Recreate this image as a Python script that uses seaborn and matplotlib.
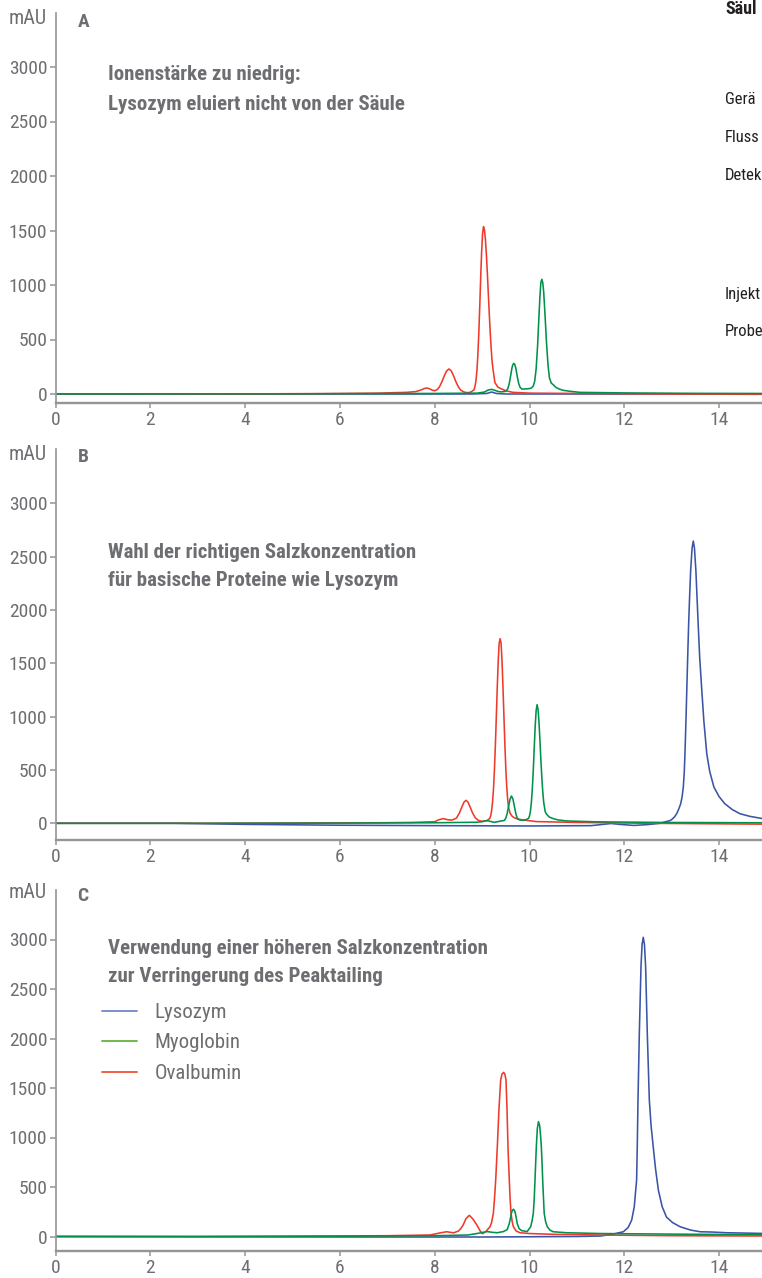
import matplotlib
matplotlib.use("Agg")
import numpy as np
import pandas as pd
import seaborn as sns
import matplotlib.pyplot as plt
from matplotlib.lines import Line2D
from matplotlib import font_manager as fm

# ---------------- data ----------------
proteins = ["Lysozym", "Myoglobin", "Ovalbumin"]
panel_labels = ["A", "B", "C"]
panel_titles = [
    "Ionenstärke zu niedrig:\nLysozym eluiert nicht von der Säule",
    "Wahl der richtigen Salzkonzentration\nfür basische Proteine wie Lysozym",
    "Verwendung einer höheren Salzkonzentration\nzur Verringerung des Peaktailing",
]
y_ticks = [0, 500, 1000, 1500, 2000, 2500, 3000]
x_ticks = [0, 2, 4, 6, 8, 10, 12, 14]
side_title = "Säul"
side_labels = ["Gerä", "Fluss", "Detek", "Injekt", "Probe"]

# Panel A
A_lys_t = [0, 5, 8.8, 9.1, 9.2, 9.3, 9.5, 12, 14.92]
A_lys_v = [0, 0, 0, 5, 18, 5, 0, 0, 0]
A_ova_t = [0, 3, 5.5, 6.8, 7.4, 7.6, 7.7, 7.78, 7.83, 7.88, 7.95, 8.0, 8.05, 8.10, 8.15, 8.20,
           8.25, 8.30, 8.35, 8.40, 8.45, 8.50, 8.55, 8.62, 8.69, 8.75, 8.79, 8.83, 8.85, 8.87,
           8.89, 8.91, 8.93, 8.95, 8.97, 8.99, 9.01, 9.03, 9.05, 9.07, 9.09, 9.11, 9.13, 9.15,
           9.17, 9.19, 9.21, 9.23, 9.27, 9.33, 9.38, 9.5, 9.65, 10.0, 11.0, 13.0, 14.92]
A_ova_v = [0, 0, 3, 8, 15, 22, 35, 50, 55, 50, 35, 30, 40, 65, 110, 165,
           210, 230, 212, 165, 110, 65, 35, 18, 12, 16, 26, 38, 69, 122,
           208, 355, 553, 799, 1064, 1303, 1473, 1535, 1505, 1417, 1282, 1115, 931, 747,
           576, 426, 304, 228, 105, 65, 52, 30, 15, 8, 5, 0, -3]
A_myo_t = [0, 5, 8, 8.9, 9.05, 9.12, 9.2, 9.28, 9.35, 9.41, 9.46, 9.50, 9.54, 9.57, 9.60,
           9.63, 9.65, 9.67, 9.69, 9.71, 9.74, 9.77, 9.80, 9.84, 9.90, 9.96, 10.00, 10.04,
           10.08, 10.11, 10.14, 10.17, 10.20, 10.22, 10.24, 10.26, 10.28, 10.30, 10.33, 10.36,
           10.39, 10.42, 10.46, 10.50, 10.56, 10.63, 10.71, 10.85, 11.07, 12.0, 13.5, 14.92]
A_myo_v = [0, 2, 5, 8, 18, 35, 43, 32, 22, 20, 22, 25, 47, 90, 162,
           240, 270, 281, 270, 240, 165, 100, 62, 45, 46, 48, 50, 55,
           73, 118, 230, 438, 717, 896, 1024, 1052, 1020, 933, 705, 461,
           270, 148, 100, 85, 60, 45, 34, 25, 15, 10, 6, 5]

# Panel B
B_lys_t = [0, 2.5, 4, 6, 8, 10, 11.3, 11.55, 11.72, 11.9, 12.2, 12.5, 12.75, 12.96, 13.0,
           13.06, 13.105, 13.15, 13.19, 13.22, 13.245, 13.265, 13.28, 13.30, 13.32, 13.34,
           13.36, 13.38, 13.40, 13.43, 13.455, 13.48, 13.51, 13.555, 13.59, 13.63, 13.68,
           13.74, 13.80, 13.89, 14.0, 14.12, 14.28, 14.44, 14.65, 14.92]
B_lys_v = [0, 0, -10, -18, -22, -25, -22, -10, -2, -10, -20, -12, 0, 25, 35,
           60, 90, 135, 184, 250, 340, 480, 653, 950, 1278, 1600,
           1903, 2150, 2371, 2580, 2646, 2580, 2371, 1903, 1560, 1278, 950,
           653, 490, 340, 250, 184, 128, 90, 65, 44]
B_ova_t = [0, 3, 5.3, 6.85, 7.5, 8.0, 8.08, 8.18, 8.28, 8.36, 8.41, 8.46, 8.52, 8.57, 8.62,
           8.66, 8.70, 8.75, 8.80, 8.86, 8.92, 8.99, 9.10, 9.16, 9.18, 9.20, 9.22, 9.24, 9.26,
           9.28, 9.30, 9.32, 9.34, 9.36, 9.38, 9.40, 9.42, 9.44, 9.46, 9.48, 9.50, 9.52, 9.54,
           9.56, 9.59, 9.63, 9.68, 9.75, 9.85, 10.15, 11.0, 12.5, 14.92]
B_ova_v = [0, 0, 3, 5, 8, 15, 32, 44, 33, 30, 38, 50, 95, 150, 200,
           215, 200, 150, 95, 50, 28, 19, 25, 45, 68, 117, 198, 320, 500,
           730, 1000, 1275, 1520, 1688, 1731, 1690, 1525, 1282, 1010, 745, 515, 340, 220,
           145, 95, 68, 52, 40, 32, 16, 8, 0, -8]
B_myo_t = [0, 3, 6, 8, 8.9, 9.0, 9.11, 9.2, 9.26, 9.36, 9.47, 9.50, 9.53, 9.56, 9.59, 9.62,
           9.65, 9.68, 9.71, 9.74, 9.77, 9.82, 9.87, 9.93, 9.98, 10.00, 10.02, 10.04, 10.06,
           10.08, 10.10, 10.12, 10.14, 10.16, 10.18, 10.20, 10.22, 10.24, 10.26, 10.28, 10.30,
           10.33, 10.36, 10.42, 10.50, 10.60, 10.78, 11.4, 12.8, 14.92]
B_myo_v = [0, 0, 2, 5, 10, 15, 25, 15, 9, 18, 27, 48, 94, 162, 228, 256,
           228, 162, 94, 50, 35, 30, 28, 35, 46, 69, 114, 196, 325,
           501, 707, 909, 1057, 1112, 1069, 949, 780, 598, 430, 295, 196,
           111, 85, 58, 44, 32, 22, 14, 8, 5]

# Panel C
C_lys_t = [0, 3, 6, 9, 11.0, 11.5, 11.77, 11.98, 12.08, 12.156, 12.21, 12.26, 12.275, 12.289,
           12.317, 12.352, 12.375, 12.40, 12.425, 12.45, 12.485, 12.528, 12.565, 12.61, 12.66,
           12.72, 12.80, 12.89, 13.02, 13.175, 13.4, 13.6, 13.85, 14.16, 14.92]
C_lys_v = [0, -3, -5, -5, 0, 5, 25, 48, 90, 166, 300, 571, 950, 1379,
           2052, 2725, 2950, 3022, 2950, 2725, 2052, 1379, 1120, 907, 680,
           465, 300, 196, 140, 99, 65, 48, 45, 38, 31]
C_ova_t = [0, 3, 5, 7, 7.9, 8.1, 8.25, 8.40, 8.50, 8.55, 8.60, 8.66, 8.73, 8.80, 8.85, 8.89,
           8.96, 9.01, 9.08, 9.167, 9.20, 9.237, 9.26, 9.287, 9.30, 9.321, 9.355, 9.392, 9.42,
           9.455, 9.48, 9.504, 9.525, 9.546, 9.56, 9.574, 9.59, 9.61, 9.635, 9.66, 9.72, 9.80,
           10.0, 10.5, 11.5, 13.0, 14.92]
C_ova_v = [0, 0, 3, 8, 15, 35, 48, 37, 55, 80, 116, 180, 214, 180, 145, 116,
           55, 28, 50, 99, 140, 234, 370, 571, 700, 907, 1280, 1581, 1640,
           1658, 1640, 1581, 1300, 907, 730, 571, 390, 234, 150, 99, 55, 38,
           30, 22, 15, 8, 5]
C_myo_t = [0, 3, 6, 8, 8.7, 8.95, 9.1, 9.22, 9.32, 9.45, 9.53, 9.575, 9.60, 9.62, 9.64, 9.66,
           9.68, 9.70, 9.72, 9.74, 9.78, 9.835, 9.95, 10.025, 10.055, 10.08, 10.10, 10.116,
           10.13, 10.144, 10.165, 10.19, 10.215, 10.235, 10.25, 10.265, 10.278, 10.295, 10.31,
           10.34, 10.375, 10.43, 10.50, 10.78, 11.5, 13.0, 14.92]
C_myo_v = [0, 0, 3, 8, 15, 35, 50, 42, 38, 50, 70, 133, 190, 240, 265, 275,
           265, 240, 190, 133, 80, 59, 50, 99, 160, 234, 380, 571,
           740, 907, 1090, 1160, 1120, 1010, 907, 740, 571, 390, 234,
           150, 99, 65, 48, 38, 30, 24, 18]

# ---------------- styling ----------------
sns.set_style("white")
names = {f.name for f in fm.fontManager.ttflist}
fam = [n for n in ["Liberation Sans Narrow", "Roboto Condensed", "Liberation Sans"] if n in names]
plt.rcParams["font.family"] = fam + ["DejaVu Sans"]

GREY = "#6d6e71"
SPINE = "#939598"
BLACK = "#231f20"
line_colors = {"Lysozym": "#3a55a5", "Myoglobin": "#00924a", "Ovalbumin": "#ee3a2a"}
legend_colors = {"Lysozym": "#6f86c8", "Myoglobin": "#62b43a", "Ovalbumin": "#f0503c"}

panels = {
    "A": {"Lysozym": (A_lys_t, A_lys_v), "Myoglobin": (A_myo_t, A_myo_v), "Ovalbumin": (A_ova_t, A_ova_v)},
    "B": {"Lysozym": (B_lys_t, B_lys_v), "Myoglobin": (B_myo_t, B_myo_v), "Ovalbumin": (B_ova_t, B_ova_v)},
    "C": {"Lysozym": (C_lys_t, C_lys_v), "Myoglobin": (C_myo_t, C_myo_v), "Ovalbumin": (C_ova_t, C_ova_v)},
}
rows = []
for p, d in panels.items():
    for prot, (ts, vs) in d.items():
        for t, v in zip(ts, vs):
            rows.append((p, prot, t, v))
df = pd.DataFrame(rows, columns=["panel", "protein", "t", "mAU"])

W, H = 762, 1278
fig = plt.figure(figsize=(W / 100, H / 100), dpi=100)

# axes geometry in pixels: (top, bottom, zero-line y, px per mAU)
geo = {
    "A": (13, 403, 394.0, 0.109),
    "B": (449, 840, 823.3, 0.10667),
    "C": (890, 1251, 1236.5, 0.099),
}
x0_px, px_per_min = 55.5, 47.4
xmax = (W - x0_px) / px_per_min
title_y = {"A": (74, 104), "B": (553, 581), "C": (949, 976)}
mau_y = {"A": 19, "B": 454, "C": 893}
lab_y = {"A": 22, "B": 457, "C": 896}

def fy(py):
    return 1 - py / H

for i, p in enumerate(panel_labels):
    top, bot, zero, k = geo[p]
    ax = fig.add_axes([x0_px / W, 1 - bot / H, (W - x0_px) / W, (bot - top) / H])
    sub = df[df.panel == p]
    sns.lineplot(data=sub, x="t", y="mAU", hue="protein",
                 hue_order=["Lysozym", "Ovalbumin", "Myoglobin"],
                 palette=line_colors, estimator=None, legend=False,
                 linewidth=1.15, ax=ax)
    ax.set_xlim(0, xmax)
    ax.set_ylim(-(bot - zero) / k, (zero - top) / k)
    ax.set_xticks(x_ticks)
    ax.set_yticks(y_ticks)
    ax.set_xlabel("")
    ax.set_ylabel("")
    for s in ["top", "right"]:
        ax.spines[s].set_visible(False)
    ax.spines["left"].set_color(SPINE)
    ax.spines["left"].set_linewidth(1.2)
    ax.spines["bottom"].set_color(SPINE)
    ax.spines["bottom"].set_linewidth(1.7)
    ax.tick_params(axis="y", direction="out", length=4, width=1.1, color=SPINE,
                   labelcolor=GREY, labelsize=14, pad=2, left=True)
    ax.tick_params(axis="x", direction="out", length=3.5, width=1.1, color=SPINE,
                   labelcolor=GREY, labelsize=14, pad=2.5, bottom=True)
    ax.patch.set_alpha(0)

    fig.text(46.5 / W, fy(mau_y[p]), "mAU", color=GREY, fontsize=14.5,
             ha="right", va="center")
    fig.text(77.5 / W, fy(lab_y[p]), p, color=GREY, fontsize=14,
             fontweight="bold", ha="left", va="center")
    l1, l2 = panel_titles[i].split("\n")
    fig.text(107.5 / W, fy(title_y[p][0]), l1, color=GREY, fontsize=15,
             fontweight="bold", ha="left", va="center")
    fig.text(107.5 / W, fy(title_y[p][1]), l2, color=GREY, fontsize=15,
             fontweight="bold", ha="left", va="center")

    if p == "C":
        handles = [Line2D([], [], color=legend_colors[n], lw=1.3) for n in proteins]
        leg = ax.legend(handles, proteins, loc="upper left",
                        bbox_to_anchor=(101.5 / W, fy(1003)),
                        bbox_transform=fig.transFigure, frameon=False,
                        borderpad=0, borderaxespad=0, handlelength=1.68,
                        handletextpad=0.87, labelspacing=0.55,
                        prop={"size": 15})
        for t in leg.get_texts():
            t.set_color(GREY)

# right-hand information column (cut off by the figure edge in the reference)
fig.text(725 / W, fy(9), side_title, color=BLACK, fontsize=13,
         fontweight="bold", ha="left", va="center")
for lbl, yy in zip(side_labels, [100, 137, 176, 294, 332]):
    fig.text(725 / W, fy(yy), lbl, color=BLACK, fontsize=12, ha="left", va="center")

fig.savefig("out.png", dpi=100)
